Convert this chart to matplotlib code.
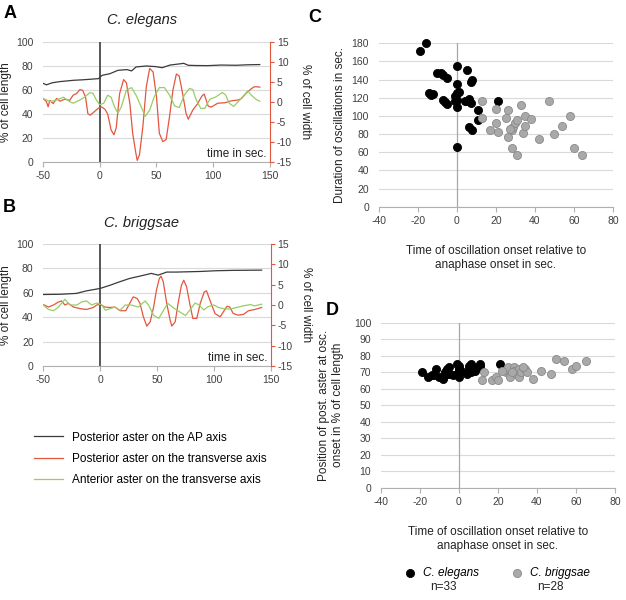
import matplotlib.pyplot as plt
import matplotlib
import numpy as np

matplotlib.rcParams["font.family"] = "Liberation Sans"
matplotlib.rcParams["axes.unicode_minus"] = False

DARK = "#3a3a3a"
RED = "#e5563f"
GREEN = "#98cd66"
GRID = "#d9d9d9"
AXIS = "#b0b0b0"
TXT = "#404040"
GREY_FILL = "#a9a9a9"
GREY_EDGE = "#8a8a8a"

# traces as (time in sec, value); black in % of cell length, red / green in % of cell width
A_BLACK = [(-50, 65.6), (-47, 64.3), (-42, 66), (-35, 67), (-23, 68.1), (-15, 68.5), (-9, 68.9),
           (-1, 69.5), (2, 72.2), (9, 73.6), (16, 76.4), (24, 77), (28, 75.9), (32, 79.2), (41, 80),
           (49, 79.5), (55, 78.6), (62, 80.8), (68, 81.5), (74, 82.2), (78, 80.6), (85, 80.4),
           (95, 80.3), (107, 80.8), (120, 80.6), (130, 81), (141, 81.2)]
A_RED = [(-50, 0.9), (-47, 0.1), (-45.5, -1.2), (-44, 0.4), (-41, -0.4), (-38, 0.9), (-35, 0.2),
         (-31, 0.7), (-26.5, 0.4), (-23.5, 1.7), (-20.5, 2.1), (-17.5, 3.1), (-15, 2.9), (-12.5, 1.2),
         (-10.5, -2.9), (-8.5, -3.3), (-5.5, -2.6), (-1.5, -1.6), (1.5, -1.2), (4.5, -1.8), (7, -3.0),
         (10, -7.0), (12.5, -8.2), (14.5, -6.5), (17.5, 2.1), (21, 5.6), (23.5, 4.8), (26.5, -0.3),
         (29, -7.8), (31.5, -12.3), (33, -14.6), (35, -13.2), (38, -6.1), (41, 3.8), (44, 8.4),
         (47, 7.5), (50, 1.3), (52.5, -7.8), (55.5, -9.9), (58.5, -9.4), (61.5, -3.6), (64.5, 3.0),
         (67.5, 7.0), (70, 6.5), (73, 2.1), (76, -2.8), (78, -4.3), (82, -2.0), (86, -0.5), (90, 1.5),
         (92, 2.0), (95.5, -1.0), (98, -1.3), (104, -0.3), (110, -0.2), (116, 0.3), (122, 0.5),
         (125, 0.9), (129, 2.2), (133, 3.2), (136, 3.8), (139, 3.8), (141, 3.7)]
A_GREEN = [(-50, 0.9), (-44, 0.1), (-38, 0.5), (-32, 1.2), (-26.5, 0.1), (-23.5, -0.3), (-17.5, 0.5),
           (-13, 1.3), (-9, 2.3), (-6, 2.2), (-3, 0.5), (0, -0.7), (3.5, -0.3), (7, 1.7), (10, 1.2),
           (13, -1.2), (16, -2.8), (19, -1.2), (23.5, 3.0), (28, 3.6), (32, 1.7), (36.5, -1.2),
           (40, -3.6), (44, -2.0), (48, 1.3), (52.5, 3.6), (57, 3.6), (61.5, 1.7), (66, -1.0),
           (70, -1.4), (74.5, 1.7), (79, 3.4), (82, 3.1), (85, 0.5), (89, -1.6), (92.5, -1.6),
           (97, 0.7), (102.5, 1.3), (108, 2.4), (111, 1.7), (114, -0.3), (118, -1.1), (122, 0.1),
           (126, 1.3), (130.5, 2.8), (133.5, 1.7), (138, 0.6), (141, 0.2)]

B_BLACK = [(-50, 58.6), (-35, 58.8), (-21, 59.5), (-12, 61.6), (0, 63.6), (9, 66.3), (17, 69),
           (26, 71.8), (35, 73.7), (45, 75.9), (51, 74.5), (58.5, 77), (67, 77), (88, 77.5),
           (102, 78.1), (117, 78.4), (142, 78.6)]
B_RED = [(-50, 0.1), (-45.5, -0.5), (-41, 0), (-37, 0.7), (-34, 1.0), (-31, 0), (-28, 0.4),
         (-23.5, -0.5), (-17.5, -0.9), (-12, -1.1), (-6, -0.6), (-3, 0), (0, 0.2), (4, -0.5),
         (8.5, -0.6), (13, -0.5), (17.5, -1.4), (22.5, -1.4), (26, 0.4), (29, 2.0), (32.5, 1.6),
         (35, 0.4), (38, -2.9), (41, -5.2), (44, -4.1), (47, -0.5), (49.5, 3.7), (52, 6.5),
         (53.5, 7.1), (55.5, 5.7), (58.5, 0.4), (61.5, -3.7), (63, -5.2), (66, -4.1), (68.5, 0.4),
         (71.5, 4.9), (73.5, 6.1), (76, 4.5), (79, 0), (81.5, -3.3), (85, -3.3), (88, 0.4),
         (91.5, 3.2), (93.5, 3.5), (97, 0.8), (101, -2.1), (105.5, -2.9), (109, -1.4), (111.5, -0.3),
         (114, -0.5), (117, -2.1), (121.5, -2.5), (126, -2.3), (130.5, -1.4), (136, -1.1),
         (142, -0.6)]
B_GREEN = [(-50, 0), (-45.5, -1.1), (-41, -1.4), (-37, -0.6), (-31, 1.4), (-26.5, 0), (-20.5, 0),
           (-16, 0.8), (-12, 1.0), (-7.5, 0), (-3, 0.5), (1.5, 0), (4.5, -1.3), (8.5, -0.9),
           (13, -0.5), (17.5, -1.3), (22, 0), (27.5, 0), (33.5, -0.5), (39.5, 1.0), (42.5, 0),
           (47, -2.5), (51.5, -3.3), (55.5, -1.4), (59.5, 0.4), (64, -0.6), (70, -1.7), (75, -2.6),
           (79, -1.2), (83.5, 0.5), (87, 0), (91, -1.2), (95, -0.4), (100, 0), (104, -0.6),
           (108.5, -0.9), (114, -1.0), (120, -0.6), (126, -0.2), (132, 0.1), (136, -0.2), (142, 0.2)]

TRACE_LABELS = ["Posterior aster on the AP axis", "Posterior aster on the transverse axis",
                "Anterior aster on the transverse axis"]

# C: oscillation onset vs duration
C_ELEGANS_X = [-19, -16, -10, -8, -7, -5, -14, -12, -13, -7, -6, -5, 0, 0, 0, -1, 1, -1, 0, 0,
               5, 8, 7, 4, 6, 7, 5, 11, 11, 6, 8, 21, 0]
C_ELEGANS_Y = [172, 180, 147, 147, 145, 142, 125, 124, 123, 118, 115, 113, 155, 135, 125, 122, 126,
               116, 110, 66, 151, 140, 137, 116, 119, 114, 117, 107, 95, 88, 85, 116, 118]
C_BRIGGSAE_X = [13, 13, 17, 20, 20, 21, 25, 26, 26, 28, 29, 30, 28, 31, 31, 33, 34, 35, 35, 38,
                42, 47, 50, 54, 58, 60, 64, 27]
C_BRIGGSAE_Y = [117, 98, 84, 108, 92, 82, 98, 106, 77, 84, 88, 92, 65, 57, 95, 112, 81, 100, 89,
                97, 75, 117, 80, 89, 100, 65, 57, 86]

# D: oscillation onset vs position of posterior aster
D_ELEGANS_X = [-19, -16, -14, -13, -12, -10, -8, -7, -7, -6, -5, -5, -1, -1, 0, 0, 0, 0, 0, 1,
               4, 5, 5, 6, 6, 7, 7, 8, 8, 11, 11, 21, -3]
D_ELEGANS_Y = [70, 67, 68, 68, 72, 67, 66, 68, 70, 72, 73, 69, 75, 69, 72, 67, 70, 74, 71, 71,
               69, 74, 72, 70, 75, 71, 73, 72, 71, 74, 75, 75, 68]
D_BRIGGSAE_X = [12, 13, 17, 19, 20, 24, 25, 26, 26, 28, 28, 29, 31, 31, 32, 34, 35, 38, 42, 47,
                50, 54, 58, 60, 65, 22, 27, 33]
D_BRIGGSAE_Y = [65, 70, 65, 67, 65, 70, 73, 68, 67, 73, 71, 69, 72, 67, 70, 72, 70, 66, 71, 69,
                78, 77, 72, 74, 77, 71, 70, 73]

fig = plt.figure(figsize=(6.26, 6.0), dpi=100)


def trace_panel(rect, black, red, green):
    ax = fig.add_axes(rect)
    ax2 = ax.twinx()
    t, v = np.array(black).T
    lb, = ax.plot(t, v, color=DARK, lw=0.9)
    t, v = np.array(red).T
    lr, = ax2.plot(t, v, color=RED, lw=0.9)
    t, v = np.array(green).T
    lg, = ax2.plot(t, v, color=GREEN, lw=0.9)
    ax.set_xlim(-50, 150)
    ax.set_ylim(0, 100)
    ax2.set_ylim(-15, 15)
    ax.set_xticks(range(-50, 151, 50))
    ax.set_yticks(range(0, 101, 20))
    ax2.set_yticks(range(-15, 16, 5))
    ax.yaxis.grid(True, color=GRID, lw=0.8)
    ax.set_axisbelow(True)
    ax.axvline(0, color=DARK, lw=1.2, zorder=1.5)
    for s in ["left", "top", "right"]:
        ax.spines[s].set_visible(False)
    for s in ["left", "top", "bottom"]:
        ax2.spines[s].set_visible(False)
    ax.spines["bottom"].set_color(AXIS)
    ax2.spines["right"].set_color(RED)
    ax.tick_params(axis="y", length=0, pad=7, labelsize=7.5, labelcolor=TXT)
    ax.tick_params(axis="x", length=3.5, color=AXIS, labelsize=7.5, labelcolor=TXT, pad=3)
    ax2.tick_params(axis="y", length=3, color=RED, labelsize=7.5, labelcolor=TXT, pad=2)
    ax.set_ylabel("% of cell length", fontsize=8.5, labelpad=3, color="#222222")
    ax2.set_ylabel("% of cell width", rotation=270, va="bottom", fontsize=8.5, labelpad=5,
                   color="#222222")
    ax2.text(0.985, 0.065, "time in sec.", transform=ax2.transAxes, ha="right", va="center",
             fontsize=8.5, color="#222222")
    return lb, lr, lg


def scatter_panel(rect, el_x, el_y, br_x, br_y, ymax, ystep, ylabel, ylabelpad):
    ax = fig.add_axes(rect)
    el = ax.scatter(el_x, el_y, s=34, c="black", edgecolors="black", linewidths=0.6, zorder=3,
                    clip_on=False)
    br = ax.scatter(br_x, br_y, s=34, c=GREY_FILL, edgecolors=GREY_EDGE, linewidths=0.6, zorder=3,
                    clip_on=False)
    ax.set_xlim(-40, 80)
    ax.set_ylim(0, ymax)
    ax.set_xticks(range(-40, 81, 20))
    ax.set_yticks(range(0, ymax + 1, ystep))
    ax.yaxis.grid(True, color=GRID, lw=0.8)
    ax.set_axisbelow(True)
    ax.axvline(0, color="#a8a8a8", lw=0.9, zorder=1.5)
    for s in ["left", "top", "right"]:
        ax.spines[s].set_visible(False)
    ax.spines["bottom"].set_color(AXIS)
    ax.tick_params(axis="y", length=0, pad=7, labelsize=7.5, labelcolor=TXT)
    ax.tick_params(axis="x", length=3.5, color=AXIS, labelsize=7.5, labelcolor=TXT, pad=3)
    ax.set_ylabel(ylabel, fontsize=8.5, labelpad=ylabelpad, color="#222222")
    ax.set_xlabel("Time of oscillation onset relative to\nanaphase onset in sec.", fontsize=8.5,
                  labelpad=14, color="#222222")
    return el, br


lines = trace_panel([0.0687, 0.73, 0.3626, 0.2], A_BLACK, A_RED, A_GREEN)
trace_panel([0.0692, 0.39, 0.3633, 0.2033], B_BLACK, B_RED, B_GREEN)
scatter_panel([0.605, 0.6555, 0.3743, 0.2723], C_ELEGANS_X, C_ELEGANS_Y, C_BRIGGSAE_X,
              C_BRIGGSAE_Y, 180, 20, "Duration of oscillations in sec.", 4)
el, br = scatter_panel([0.6086, 0.1872, 0.3738, 0.275], D_ELEGANS_X, D_ELEGANS_Y, D_BRIGGSAE_X,
                       D_BRIGGSAE_Y, 100, 10,
                       "Position of post. aster at osc.\nonset in % of cell length", 7)

fig.text(142 / 626, 1 - 20 / 600, "C. elegans", style="italic", fontsize=10.5, ha="center",
         va="center", color="#222222")
fig.text(142 / 626, 1 - 223 / 600, "C. briggsae", style="italic", fontsize=10.5, ha="center",
         va="center", color="#222222")

for letter, x, y in [("A", 10, 14), ("B", 9, 208), ("C", 315, 18), ("D", 332, 310)]:
    fig.text(x / 626, 1 - y / 600, letter, fontsize=13, fontweight="bold", ha="center",
             va="center")

fig.legend(handles=list(lines), labels=TRACE_LABELS, loc="center left",
           bbox_to_anchor=(28 / 626, 1 - 459 / 600), frameon=False, fontsize=8.5, borderpad=0,
           handlelength=2.5, handletextpad=0.7, labelspacing=0.8)

leg = fig.legend(handles=[el, br], labels=["C. elegans", "C. briggsae"], loc="center",
                 bbox_to_anchor=(494 / 626, 1 - 573 / 600), ncol=2, frameon=False, fontsize=8.5,
                 handletextpad=0.1, columnspacing=2.2, borderpad=0)
for t in leg.get_texts():
    t.set_fontstyle("italic")
fig.text(443 / 626, 1 - 587 / 600, "n=33", fontsize=8.5, ha="center", va="center",
         color="#222222")
fig.text(550 / 626, 1 - 587 / 600, "n=28", fontsize=8.5, ha="center", va="center",
         color="#222222")

fig.savefig("out.png", dpi=100)
